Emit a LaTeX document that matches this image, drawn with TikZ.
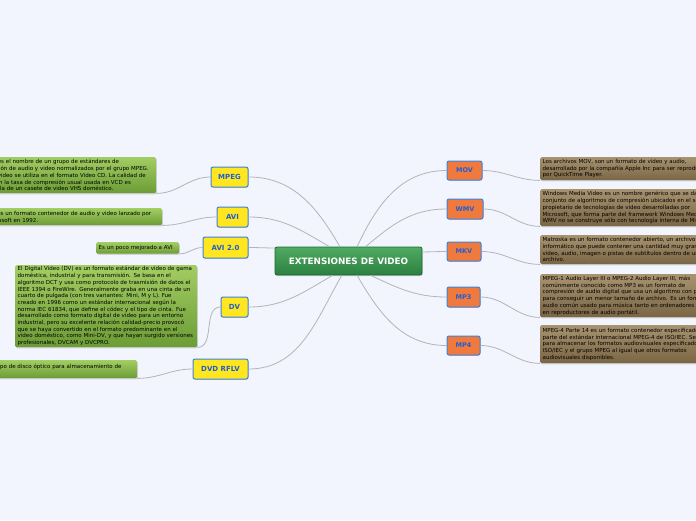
\documentclass[tikz,border=0pt]{standalone}
\usepackage{fontspec}
\setmainfont{DejaVu Sans}
\usetikzlibrary{shadows}
\definecolor{bg}{HTML}{F2F5FD}
\definecolor{lnk}{HTML}{B4B4B8}
\definecolor{gtop}{HTML}{A2CD62}
\definecolor{gbot}{HTML}{6C9C36}
\definecolor{btop}{HTML}{A89370}
\definecolor{bbot}{HTML}{7A6644}
\definecolor{yfill}{HTML}{FFE61E}
\definecolor{ofill}{HTML}{F07A3E}
\definecolor{bord}{HTML}{3C82DC}
\definecolor{ltxt}{HTML}{1E5FD2}
\definecolor{ctop}{HTML}{4FAA62}
\definecolor{cbot}{HTML}{2C8040}
\definecolor{cbord}{HTML}{1D6A2E}
\tikzset{
  link/.style={draw=lnk, line width=0.8pt},
  boxtext/.style={rounded corners=1.5pt, align=left, inner xsep=2.5pt, inner ysep=0pt,
    anchor=north west, font=\fontsize{5.5}{6.7}\selectfont, text=black,
    drop shadow={shadow xshift=0.6pt, shadow yshift=-1.2pt, opacity=0.3}},
  greenbox/.style={boxtext, top color=gtop, bottom color=gbot},
  brownbox/.style={boxtext, top color=btop, bottom color=bbot},
  topicbase/.style={draw=bord, line width=1pt, rounded corners=2pt, text=ltxt,
    inner sep=0pt, drop shadow={shadow xshift=0.5pt, shadow yshift=-0.8pt, opacity=0.25}},
  ytopic/.style={topicbase, fill=yfill, minimum height=20pt, font=\bfseries\fontsize{7}{8}\selectfont},
  otopic/.style={topicbase, fill=ofill, minimum height=19pt, font=\bfseries\fontsize{6.5}{8}\selectfont},
  central/.style={draw=cbord, line width=0.8pt, rounded corners=2pt, top color=ctop, bottom color=cbot,
    text=white, font=\bfseries\fontsize{8.8}{10}\selectfont, minimum width=147pt, minimum height=28pt,
    drop shadow={shadow xshift=0.6pt, shadow yshift=-1pt, opacity=0.3}}
}
\begin{document}
\begin{tikzpicture}[x=1pt,y=-1pt]
\useasboundingbox (0,0) rectangle (696,520);
\fill[bg] (0,0) rectangle (696,520);
\clip (0,0) rectangle (696,520);

% central
\node[central] (c) at (348.5,261) {EXTENSIONES DE VIDEO};

% left topics
\node[ytopic, minimum width=37pt] (mpeg) at (229.5,177) {MPEG};
\node[ytopic, minimum width=31pt] (avi) at (232.5,217) {AVI};
\node[ytopic, minimum width=45pt, minimum height=21pt] (avid) at (225.5,247.5) {AVI 2.0};
\node[ytopic, minimum width=27pt] (dv) at (234.5,307) {DV};
\node[ytopic, minimum width=55pt] (dvd) at (220.5,369) {DVD RFLV};

% right topics
\node[otopic, minimum width=35pt] (mov) at (464.5,170.5) {MOV};
\node[otopic, minimum width=36pt, minimum height=20pt] (wmv) at (465,209) {WMV};
\node[otopic, minimum width=34pt] (mkv) at (464,251.5) {MKV};
\node[otopic, minimum width=33pt, minimum height=20pt] (mp3) at (463.5,297) {MP3};
\node[otopic, minimum width=33pt] (mp4) at (463.5,345.5) {MP4};

% left text boxes
\node[greenbox, text width=179pt, minimum height=36pt] (tmpeg) at (-28,157) {MPEG-1 es el nombre de un grupo de estándares de\\codificación de audio y video normalizados por el grupo MPEG.\\MPEG-1 video se utiliza en el formato Video CD. La calidad de\\salida con la tasa de compresión usual usada en VCD es\\similar a la de un casete de video VHS doméstico.};
\node[greenbox, text width=173pt, minimum height=17pt] (tavi) at (-16,208) {AVI es un formato contenedor de audio y video lanzado por\\Microsoft en 1992.};
\node[greenbox, text width=78pt, minimum height=11.5pt] (tavid) at (96,242) {Es un poco mejorado a AVI};
\node[greenbox, text width=177pt, minimum height=82pt] (tdv) at (15,265) {El Digital Video (DV) es un formato estándar de video de gama\\doméstica, industrial y para transmisión. Se basa en el\\algoritmo DCT y usa como protocolo de trasmisión de datos el\\IEEE 1394 o FireWire. Generalmente graba en una cinta de un\\cuarto de pulgada (con tres variantes: Mini, M y L). Fue\\creado en 1996 como un estándar internacional según la\\norma IEC 61834, que define el códec y el tipo de cinta. Fue\\desarrollado como formato digital de video para un entorno\\industrial, pero su excelente relación calidad-precio provocó\\que se haya convertido en el formato predominante en el\\video doméstico, como Mini-DV, y que hayan surgido versiones\\profesionales, DVCAM y DVCPRO.};
\node[greenbox, text width=176pt, minimum height=18pt] (tdvd) at (-44,360) {El DVD es un tipo de disco óptico para almacenamiento de\\datos.};

% right text boxes
\node[brownbox, text width=210pt, minimum height=23pt] (tmov) at (540,157) {Los archivos MOV, son un formato de video y audio,\\desarrollado por la compañía Apple Inc para ser reproducido\\por QuickTime Player.};
\node[brownbox, text width=210pt, minimum height=37pt] (twmv) at (540,189) {Windows Media Video es un nombre genérico que se da al\\conjunto de algoritmos de compresión ubicados en el set\\propietario de tecnologías de video desarrolladas por\\Microsoft, que forma parte del framework Windows Media.\\WMV no se construye sólo con tecnología interna de Microsoft.};
\node[brownbox, text width=210pt, minimum height=29pt] (tmkv) at (540,235) {Matroska es un formato contenedor abierto, un archivo\\informático que puede contener una cantidad muy grande de\\video, audio, imagen o pistas de subtítulos dentro de un solo\\archivo.};
\node[brownbox, text width=210pt, minimum height=43pt] (tmp3) at (540,274) {MPEG-1 Audio Layer III o MPEG-2 Audio Layer III, más\\comúnmente conocido como MP3 es un formato de\\compresión de audio digital que usa un algoritmo con pérdida\\para conseguir un menor tamaño de archivo. Es un formato de\\audio común usado para música tanto en ordenadores como\\en reproductores de audio portátil.};
\node[brownbox, text width=210pt, minimum height=38pt] (tmp4) at (540,325) {MPEG-4 Parte 14 es un formato contenedor especificado como\\parte del estándar internacional MPEG-4 de ISO/IEC. Se utiliza\\para almacenar los formatos audiovisuales especificados por\\ISO/IEC y el grupo MPEG al igual que otros formatos\\audiovisuales disponibles.};

% connectors center -> topics
\draw[link] (c.59) to[out=65,in=180] (mov.west);
\draw[link] (c.40) to[out=40,in=180] (wmv.west);
\draw[link] (c.7) to[out=0,in=180] (mkv.west);
\draw[link] (c.327) to[out=-25,in=180] (mp3.west);
\draw[link] (c.301) to[out=-60,in=180] (mp4.west);
\draw[link] (c.121) to[out=120,in=0] (mpeg.east);
\draw[link] (c.143) to[out=150,in=0] (avi.east);
\draw[link] (c.170) to[out=180,in=0] (avid.east);
\draw[link] (c.222) to[out=210,in=0] (dv.east);
\draw[link] (c.245) to[out=240,in=0] (dvd.east);
% topics -> text boxes
\draw[link] (mpeg.west) to[out=180,in=0] (tmpeg.south east);
\draw[link] (avi.west) to[out=180,in=0] (tavi.south east);
\draw[link] (avid.west) to[out=180,in=0] (tavid.south east);
\draw[link] (dv.west) to[out=180,in=0] (tdv.south east);
\draw[link] (dvd.west) to[out=180,in=0] (tdvd.south east);
\draw[link] (mov.east) to[out=0,in=180] (tmov.south west);
\draw[link] (wmv.east) to[out=0,in=180] (twmv.south west);
\draw[link] (mkv.east) to[out=0,in=180] (tmkv.south west);
\draw[link] (mp3.east) to[out=0,in=180] (tmp3.south west);
\draw[link] (mp4.east) to[out=0,in=180] (tmp4.south west);
\end{tikzpicture}
\end{document}
